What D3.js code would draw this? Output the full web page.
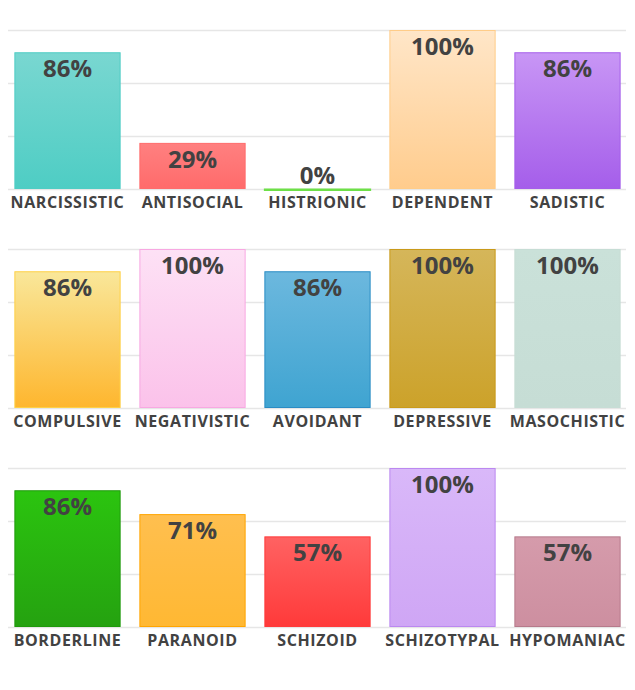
<!DOCTYPE html>
<html>
<head>
<meta charset="utf-8">
<script src="https://cdn.jsdelivr.net/npm/d3@7"></script>
<style>
  body { margin: 0; background: #fff; }
  text { font-family: "Open Sans", sans-serif; font-weight: bold; fill: #424242; }
</style>
</head>
<body>
<div id="chart"></div>
<script>
var w = 635;
var h = 690;

// three rows of five scales each
var row1 = ["NARCISSISTIC", "ANTISOCIAL", "HISTRIONIC", "DEPENDENT", "SADISTIC"];
var row2 = ["COMPULSIVE", "NEGATIVISTIC", "AVOIDANT", "DEPRESSIVE", "MASOCHISTIC"];
var row3 = ["BORDERLINE", "PARANOID", "SCHIZOID", "SCHIZOTYPAL", "HYPOMANIAC"];
var values1 = [86, 29, 0, 100, 86];
var values2 = [86, 100, 86, 100, 100];
var values3 = [86, 71, 57, 100, 57];
var ticks = [0, 33.33, 66.67, 100];

// [top colour, bottom colour, stroke]
var colors1 = [["#79d7d1", "#4ecdc4", "#4ecdc4"], ["#ff8080", "#ff6b6b", "#ff6b6b"], ["#8cf06c", "#6ee048", "#6ee048"], ["#ffe6c8", "#ffcc8d", "#ffcc88"], ["#c896f5", "#a55eea", "#a55eea"]];
var colors2 = [["#f9e79a", "#feb62e", "#fed045"], ["#fde1f5", "#fbc2ea", "#f8a8e2"], ["#6cb8de", "#3fa4d1", "#2a8cc4"], ["#d5b65a", "#cca22a", "#c99a1a"], ["#cae1d9", "#c6ddd5", "#c6ddd5"]];
var colors3 = [["#2bc40f", "#25a210", "#1f9a0c"], ["#ffbf4f", "#ffb833", "#ffa500"], ["#ff6262", "#ff3a3a", "#ff3a3a"], ["#d9b8f9", "#cfa6f5", "#bb88f0"], ["#d59bab", "#cd8fa0", "#b67a8b"]];

var rows = [
  { cats: row1, vals: values1, cols: colors1, top: 30 },
  { cats: row2, vals: values2, cols: colors2, top: 249 },
  { cats: row3, vals: values3, cols: colors3, top: 468 }
];
var plotH = 159;

var svg = d3.select("#chart")
  .append("svg")
  .attr("width", w)
  .attr("height", h);

var defs = svg.append("defs");

var x = d3.scaleBand().range([5, 630]).paddingInner(0.15).paddingOuter(0.075);
var y = d3.scaleLinear().domain([0, 100]).range([plotH, 0]);

rows.forEach(function(row, ri) {
  x.domain(row.cats);

  var g = svg.append("g")
    .attr("transform", "translate(0," + row.top + ")");

  // gridlines
  g.selectAll(".grid")
    .data(ticks)
    .enter().append("line")
    .attr("x1", 8)
    .attr("x2", 626)
    .attr("y1", function(d) { return Math.round(y(d)) + 0.5; })
    .attr("y2", function(d) { return Math.round(y(d)) + 0.5; })
    .attr("stroke", "#e6e6e6")
    .attr("stroke-width", 1.5);

  row.cols.forEach(function(c, i) {
    var grad = defs.append("linearGradient")
      .attr("id", "grad" + ri + "_" + i)
      .attr("x1", "0%").attr("y1", "0%")
      .attr("x2", "0%").attr("y2", "100%");
    grad.append("stop").attr("offset", "0%").attr("stop-color", c[0]);
    grad.append("stop").attr("offset", "100%").attr("stop-color", c[1]);
  });

  var data = row.cats.map(function(c, i) { return { cat: c, v: row.vals[i], i: i }; });

  g.selectAll(".bar")
    .data(data)
    .enter().append("rect")
    .attr("x", function(d) { return x(d.cat) + 0.5; })
    .attr("y", function(d) { return y(d.v) + 0.5; })
    .attr("width", x.bandwidth() - 1)
    .attr("height", function(d) { return Math.max(plotH - y(d.v) - 1, 0.5); })
    .style("fill", function(d) { return "url(#grad" + ri + "_" + d.i + ")"; })
    .attr("stroke", function(d) { return row.cols[d.i][2]; })
    .attr("stroke-width", function(d) { return d.v === 0 ? 2 : 1; });

  g.selectAll(".val")
    .data(data)
    .enter().append("text")
    .attr("x", function(d) { return x(d.cat) + x.bandwidth() / 2; })
    .attr("y", function(d) { return d.v < 10 ? y(d.v) - 5 : y(d.v) + 25; })
    .attr("text-anchor", "middle")
    .style("font-size", "24px")
    .text(function(d) { return d.v + "%"; });

  g.selectAll(".cat")
    .data(data)
    .enter().append("text")
    .attr("x", function(d) { return x(d.cat) + x.bandwidth() / 2; })
    .attr("y", plotH + 19)
    .attr("text-anchor", "middle")
    .style("font-size", "16px")
    .style("letter-spacing", "0.6px")
    .text(function(d) { return d.cat; });
});
</script>
</body>
</html>
